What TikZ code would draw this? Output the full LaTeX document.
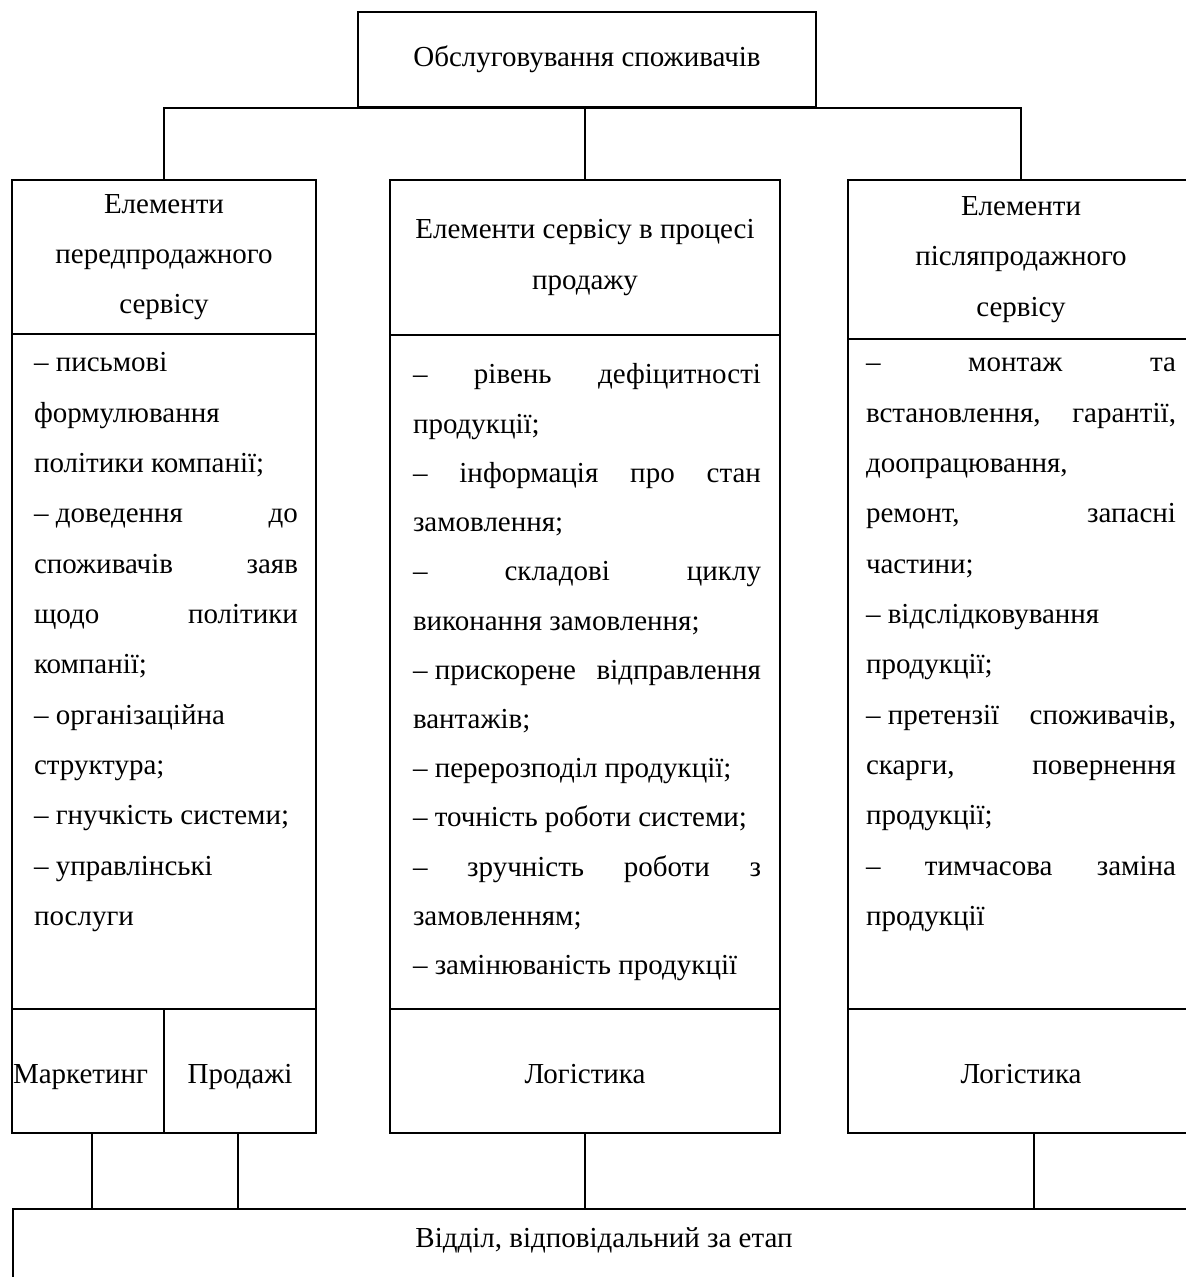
\documentclass[tikz,border=0pt]{standalone}
\usepackage{fontspec}
\setmainfont{Liberation Serif}
\newcommand\Jl[1]{{\spaceskip=0.25em plus 1fil\makebox[\linewidth][s]{#1}}}
\newcommand\dsh{–\kern0.25em}
\begin{document}
\begin{tikzpicture}[x=0.5pt,y=-0.5pt,line width=1pt,
  txt/.style={font=\fontsize{14.5}{25.15}\selectfont},
  box/.style={draw,rectangle,inner sep=0pt,txt},
  head/.style={box,align=center},
  foot/.style={box,minimum height=62pt,text depth=0pt,text height=12pt},
  bodytext/.style={txt,inner sep=0pt,align=flush left,anchor=base west}]
\fill[white] (0,0) rectangle (1186,1277);
\useasboundingbox (0,0) rectangle (1186,1277);
\clip (0,0) rectangle (1186,1277);

% top
\node[box,minimum width=229pt,minimum height=47.5pt] (top) at (587,59.5) {Обслуговування споживачів};

% left column
\node[head,minimum width=152pt,minimum height=77pt] (lhead) at (164,257) {Елементи\\передпродажного\\сервісу};
\node[box,minimum width=152pt,minimum height=337.5pt] (lbody) at (164,671.5) {};
\node[foot,minimum width=76pt,text width=75pt,inner xsep=0.5pt,align=flush left] (mark) at (88,1071) {Маркетинг};
\node[foot,minimum width=76pt] (prod) at (240,1071) {Продажі};
\node[bodytext,text width=132pt] (ltext) at (33,372) {%
– письмові\\
формулювання\\
політики компанії;\\
\Jl{\dsh доведення до}\\
\Jl{споживачів заяв}\\
\Jl{щодо політики}\\
компанії;\\
– організаційна\\
структура;\\
– гнучкість системи;\\
– управлінські\\
послуги};

% center column
\node[head,minimum width=195pt,minimum height=77.5pt] (chead) at (585,257.5) {Елементи сервісу в процесі\\продажу};
\node[box,minimum width=195pt,minimum height=337pt] (cbody) at (585,672) {};
\node[foot,minimum width=195pt] (cfoot) at (585,1071) {Логістика};
\node[bodytext,text width=174pt,font=\fontsize{14.5}{24.6}\selectfont] (ctext) at (412,384) {%
\Jl{– рівень дефіцитності}\\
продукції;\\
\Jl{– інформація про стан}\\
замовлення;\\
\Jl{– складові циклу}\\
виконання замовлення;\\
\Jl{\dsh прискорене відправлення}\\
вантажів;\\
– перерозподіл продукції;\\
– точність роботи системи;\\
\Jl{– зручність роботи з}\\
замовленням;\\
– замінюваність продукції};

% right column
\node[head,minimum width=173pt,minimum height=79.5pt] (rhead) at (1021,259.5) {Елементи\\післяпродажного\\сервісу};
\node[box,minimum width=173pt,minimum height=335pt] (rbody) at (1021,674) {};
\node[foot,minimum width=173pt] (rfoot) at (1021,1071) {Логістика};
\node[bodytext,text width=155pt] (rtext) at (865,372) {%
\Jl{– монтаж та}\\
\Jl{встановлення, гарантії,}\\
доопрацювання,\\
\Jl{ремонт, запасні}\\
частини;\\
– відслідковування\\
продукції;\\
\Jl{\dsh претензії споживачів,}\\
\Jl{скарги, повернення}\\
продукції;\\
\Jl{– тимчасова заміна}\\
продукції};

% department
\node[box,minimum width=592pt,minimum height=50pt,anchor=north west] (dept) at (12,1208) {};
\node[txt,inner sep=0pt,anchor=base] (depttxt) at (604,1247) {Відділ, відповідальний за етап};

% connectors top
\draw (lhead.north) -- (lhead.north |- top.south) -- (rhead.north |- top.south) -- (rhead.north);
\draw (chead.north) -- (chead.north |- top.south);

% connectors bottom
\draw ([xshift=2pt]mark.south) -- ([xshift=2pt]mark.south |- dept.north);
\draw ([xshift=-1pt]prod.south) -- ([xshift=-1pt]prod.south |- dept.north);
\draw (cfoot.south) -- (cfoot.south |- dept.north);
\draw ([xshift=6.5pt]rfoot.south) -- ([xshift=6.5pt]rfoot.south |- dept.north);
\end{tikzpicture}
\end{document}
